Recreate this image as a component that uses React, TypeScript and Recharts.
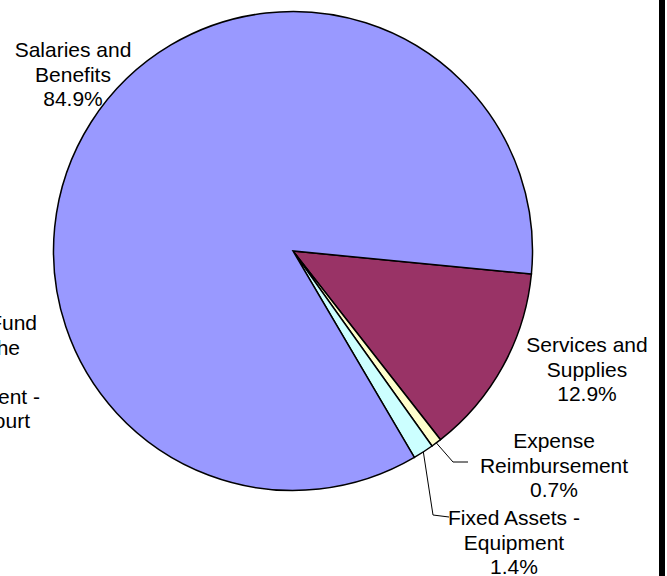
import { PieChart, Pie, Cell } from "recharts";

// slices in drawing order (clockwise from just below 3 o'clock)
const categories = [
  "Services and Supplies",
  "Expense Reimbursement",
  "Fixed Assets - Equipment",
  "Salaries and Benefits",
  "Operating Transfers Out - Court",
];
const shares = [12.9, 0.7, 1.4, 84.9, 0.1];
const fills = ["#993366", "#FFFFCC", "#CCFFFF", "#9999FF", "#FFCC99"];
const labelText = [
  ["Services and", "Supplies"],
  ["Expense", "Reimbursement"],
  ["Fixed Assets -", "Equipment"],
  ["Salaries and", "Benefits"],
  ["Transfers to General Fund", "for the", "Trial Court", "Funding Department -", "Superior Court"],
];

const data = categories.map((name, i) => ({ name, value: shares[i], fill: fills[i], idx: i }));
// the 0.1% slice is too thin to show as a wedge; only its label is visible
const pieData = data.filter((d) => d.value >= 0.5);

// label layout (kept apart from the data)
const LAYOUT: { x: number | number[]; y: number; anchor: "middle" | "end"; leader?: number[][] }[] = [
  { x: 587, y: 352, anchor: "middle" },
  { x: 554, y: 448, anchor: "middle", leader: [[453, 462], [468, 462]] },
  { x: 514, y: 525, anchor: "middle", leader: [[433, 515], [449, 517]] },
  { x: 73, y: 57, anchor: "middle" },
  { x: [37, 20, -4, 40, 30], y: 330, anchor: "end" },
];
const LINE_H = 24.5;
const RAD = Math.PI / 180;
const FONT = "'Liberation Sans', Arial, sans-serif";

function LabelText({ idx }: { idx: number }) {
  const lay = LAYOUT[idx];
  const lines = [...labelText[idx]];
  if (idx !== 4) lines.push(`${shares[idx].toFixed(1)}%`);
  return (
    <>
      {lines.map((t, i) => (
        <text
          key={i}
          x={Array.isArray(lay.x) ? lay.x[i] : lay.x}
          y={lay.y + i * LINE_H}
          textAnchor={lay.anchor}
          fontFamily={FONT}
          fontSize={21}
          fill="#000"
        >
          {t}
        </text>
      ))}
    </>
  );
}

function renderLabel(props: any) {
  const { cx, cy, midAngle, outerRadius, payload, index } = props;
  const idx = payload?.idx ?? index;
  const lay = LAYOUT[idx];
  let leader = null;
  if (lay.leader) {
    const sx = cx + outerRadius * Math.cos(-midAngle * RAD);
    const sy = cy + outerRadius * Math.sin(-midAngle * RAD);
    const pts = [[sx, sy], ...lay.leader].map((p) => p.join(",")).join(" ");
    leader = <polyline points={pts} fill="none" stroke="#000" strokeWidth={1} />;
  }
  return (
    <g key={`lbl-${idx}`}>
      {leader}
      <LabelText idx={idx} />
    </g>
  );
}

export default function App() {
  return (
    <div style={{ position: "absolute", left: 0, top: 0, width: 667, height: 576, background: "#fff", overflow: "hidden" }}>
      <PieChart width={667} height={576} margin={{ top: 0, right: 0, bottom: 0, left: 0 }}>
        <Pie
          data={pieData}
          dataKey="value"
          nameKey="name"
          cx={293}
          cy={251}
          outerRadius={239.5}
          startAngle={-5.5}
          endAngle={-365.5}
          stroke="#000"
          strokeWidth={1.5}
          label={renderLabel}
          labelLine={false}
          isAnimationActive={false}
        >
          {pieData.map((d) => (
            <Cell key={d.name} fill={d.fill} />
          ))}
        </Pie>
      </PieChart>
      <svg width={120} height={460} style={{ position: "absolute", left: 0, top: 0 }}>
        {data.filter((d) => d.value < 0.5).map((d) => (
          <LabelText key={d.name} idx={d.idx} />
        ))}
      </svg>
      <div style={{ position: "absolute", left: 659, top: 0, width: 6, height: 576, background: "#000" }} />
    </div>
  );
}
